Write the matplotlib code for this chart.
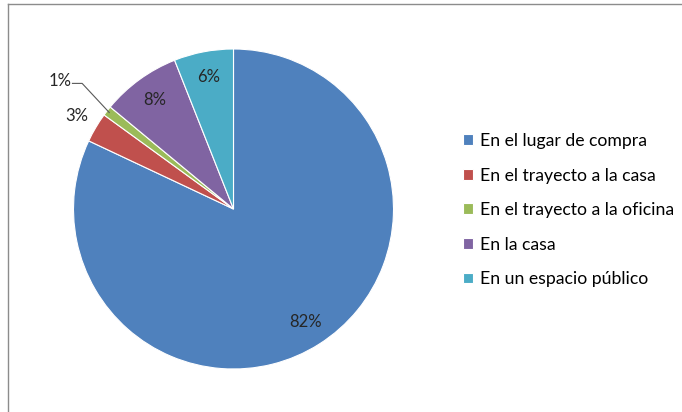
import matplotlib
matplotlib.use("Agg")
import matplotlib.pyplot as plt
from matplotlib.lines import Line2D
import numpy as np

categories = ["En el lugar de compra", "En el trayecto a la casa",
              "En el trayecto a la oficina", "En la casa", "En un espacio público"]
values = [82, 3, 1, 8, 6]
colors = ["#4F81BD", "#C0504D", "#9BBB59", "#8064A2", "#4BACC6"]

plt.rcParams["font.family"] = ["Lato", "DejaVu Sans"]

W, H = 682, 412
fig = plt.figure(figsize=(W / 100, H / 100), dpi=100)
fig.patch.set_facecolor("white")

# pie area: centre and radius in pixels
cx, cy, r = 233.5, 209, 158
half = 200
ax = fig.add_axes([(cx - half) / W, (H - cy - half) / H, 2 * half / W, 2 * half / H])
lim = half / r
ax.set_xlim(-lim, lim)
ax.set_ylim(-lim, lim)
ax.set_aspect("equal")
ax.axis("off")

wedges, _ = ax.pie(values, colors=colors, startangle=90, counterclock=False,
                   radius=1, wedgeprops=dict(linewidth=0.8, edgecolor="white"))

def mid_angle(w):
    return np.deg2rad((w.theta1 + w.theta2) / 2)

label_kw = dict(fontsize=12, color="#262626")

# labels inside the larger slices
for w, v in zip(wedges, values):
    a = mid_angle(w)
    if v >= 5:
        d = 0.84
        ax.text(d * np.cos(a), d * np.sin(a), f"{v}%", ha="center", va="center", **label_kw)

# 3% label just outside its slice
a = mid_angle(wedges[1])
ax.text(1.14 * np.cos(a), 1.14 * np.sin(a), f"{values[1]}%", ha="center", va="center",
        **label_kw)

# 1% label with a leader line
a = mid_angle(wedges[2])
px, py = 0.98 * np.cos(a), 0.98 * np.sin(a)
ly = 0.785
ax.plot([px, -0.946, -1.01], [py, ly, ly], color="#595959", lw=0.8,
        solid_capstyle="butt")
ax.text(-1.01, 0.80, f"{values[2]}%", ha="right", va="center", **label_kw)

# legend
fig.legend(wedges, categories, loc="upper left",
           bbox_to_anchor=(463 / W, 1 - 133 / H), frameon=False,
           fontsize=12.7, handlelength=0.55, handleheight=0.55, handletextpad=0.4,
           labelspacing=1.05, borderpad=0, borderaxespad=0)

# outer frame (top and left edges)
fig.add_artist(Line2D([8 / W, 1], [1 - 4 / H, 1 - 4 / H], transform=fig.transFigure,
                      color="#8c8c8c", lw=1))
fig.add_artist(Line2D([8 / W, 8 / W], [0, 1 - 4 / H], transform=fig.transFigure,
                      color="#8c8c8c", lw=1))

fig.savefig("out.png", dpi=100)
